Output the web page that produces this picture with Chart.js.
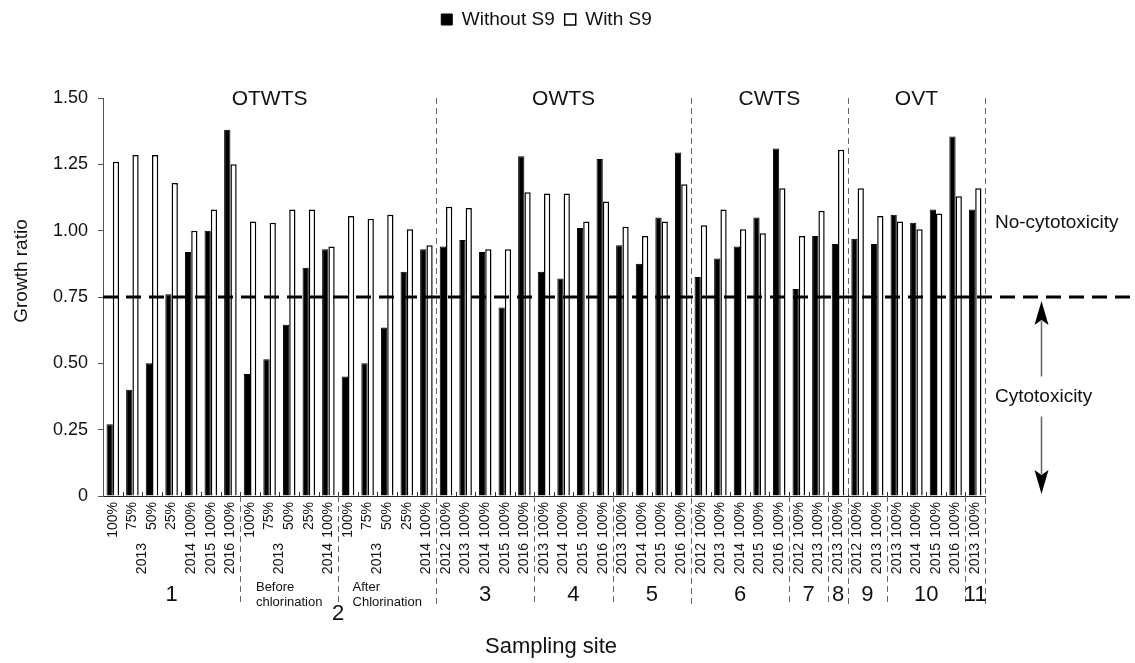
<!DOCTYPE html>
<html>
<head>
<meta charset="utf-8">
<script src="https://cdn.jsdelivr.net/npm/chart.js@4.4.1/dist/chart.umd.min.js"></script>
<style>
  html, body { margin: 0; padding: 0; background: #fff; }
</style>
</head>
<body>
<canvas id="barChart" width="1135" height="663"></canvas>
<script>
// sample concentration / year / site rows under the x axis
const concLabels = [
  '100%', '75%', '50%', '25%', '100%', '100%', '100%',
  '100%', '75%', '50%', '25%', '100%',
  '100%', '75%', '50%', '25%', '100%',
  '100%', '100%', '100%', '100%', '100%',
  '100%', '100%', '100%', '100%',
  '100%', '100%', '100%', '100%',
  '100%', '100%', '100%', '100%', '100%',
  '100%', '100%',
  '100%',
  '100%', '100%',
  '100%', '100%', '100%', '100%',
  '100%'
];
const yearLabels = [
  '2013', '2013', '2013', '2013', '2014', '2015', '2016',
  '2013', '2013', '2013', '2013', '2014',
  '2013', '2013', '2013', '2013', '2014',
  '2012', '2013', '2014', '2015', '2016',
  '2013', '2014', '2015', '2016',
  '2013', '2014', '2015', '2016',
  '2012', '2013', '2014', '2015', '2016',
  '2012', '2013',
  '2013',
  '2012', '2013',
  '2013', '2014', '2015', '2016',
  '2013'
];
const siteLabels = ['1', '2', '2', '3', '4', '5', '6', '7', '8', '9', '10', '11'];
const siteNotes = ['', 'Before\nchlorination', 'After\nChlorination', '', '', '', '', '', '', '', '', ''];
const siteSizes = [7, 5, 5, 5, 4, 4, 5, 2, 1, 2, 4, 1];
const plantLabels = ['OTWTS', 'OWTS', 'CWTS', 'OVT'];
const plantSizes = [17, 13, 8, 7];

// growth ratios
const withoutS9 = [
  0.27, 0.40, 0.50, 0.76, 0.92, 1.00, 1.38,
  0.46, 0.515, 0.645, 0.86, 0.93,
  0.45, 0.50, 0.635, 0.845, 0.93,
  0.94, 0.965, 0.92, 0.71, 1.28,
  0.845, 0.82, 1.01, 1.27,
  0.945, 0.875, 1.05, 1.295,
  0.825, 0.895, 0.94, 1.05, 1.31,
  0.78, 0.98,
  0.95,
  0.97, 0.95,
  1.06, 1.03, 1.08, 1.355,
  1.08
];
const withS9 = [
  1.26, 1.285, 1.285, 1.18, 1.00, 1.08, 1.25,
  1.035, 1.03, 1.08, 1.08, 0.94,
  1.055, 1.045, 1.06, 1.005, 0.945,
  1.09, 1.085, 0.93, 0.93, 1.145,
  1.14, 1.14, 1.035, 1.11,
  1.015, 0.98, 1.035, 1.175,
  1.02, 1.08, 1.005, 0.99, 1.16,
  0.98, 1.075,
  1.305,
  1.16, 1.055,
  1.035, 1.005, 1.065, 1.13,
  1.16
];
const cutoff = 0.75;
const FONT = '"Liberation Sans", Arial, sans-serif';

Chart.defaults.font.family = FONT;
Chart.defaults.color = '#111';

function cumulative(sizes) {
  const out = [0];
  sizes.forEach(n => out.push(out[out.length - 1] + n));
  return out;
}

const annotate = {
  id: 'annotate',
  beforeLayout(chart) {
    const lg = chart.legend;
    if (lg && !lg._tall) {
      const fit = lg.fit;
      lg.fit = function () { fit.call(this); this.height = 98; };
      lg._tall = true;
    }
  },
  afterDatasetsDraw(chart) {
    const { ctx, chartArea: a, scales: { y } } = chart;
    const yc = y.getPixelForValue(cutoff);
    ctx.save();
    ctx.strokeStyle = '#000';
    ctx.lineWidth = 3;
    ctx.setLineDash([15, 8]);
    ctx.beginPath();
    ctx.moveTo(a.left, yc);
    ctx.lineTo(chart.width, yc);
    ctx.stroke();
    ctx.restore();
  },
  afterDraw(chart) {
    const { ctx, chartArea: a, scales: { x, y } } = chart;
    const step = x.getPixelForValue(1) - x.getPixelForValue(0);
    const edge = i => x.getPixelForValue(i) - step / 2;
    const n = concLabels.length;

    ctx.save();
    // small inward ticks between categories
    ctx.strokeStyle = '#333';
    ctx.lineWidth = 1;
    for (let i = 1; i < n; i++) {
      const px = Math.round(edge(i)) + 0.5;
      ctx.beginPath();
      ctx.moveTo(px, a.bottom);
      ctx.lineTo(px, a.bottom - 4);
      ctx.stroke();
    }

    // dashed dividers
    const siteCum = cumulative(siteSizes);
    const plantCum = cumulative(plantSizes);
    ctx.strokeStyle = '#666';
    ctx.setLineDash([6, 4]);
    siteCum.slice(1).forEach(i => {
      const px = Math.round(edge(i)) + 0.5;
      const top = plantCum.includes(i) ? a.top : a.bottom;
      ctx.beginPath();
      ctx.moveTo(px, top);
      ctx.lineTo(px, 605);
      ctx.stroke();
    });
    ctx.setLineDash([]);

    // rotated label rows
    ctx.fillStyle = '#111';
    function vtext(str, px, py, size, align) {
      ctx.save();
      ctx.translate(px, py);
      ctx.rotate(-Math.PI / 2);
      ctx.font = size + 'px ' + FONT;
      ctx.textAlign = align || 'right';
      ctx.textBaseline = 'middle';
      ctx.fillText(str, 0, 0);
      ctx.restore();
    }
    concLabels.forEach((s, i) => vtext(s, x.getPixelForValue(i), a.bottom + 6, 14));

    const siteOf = [];
    siteSizes.forEach((m, s) => { for (let k = 0; k < m; k++) siteOf.push(s); });
    let i = 0;
    while (i < n) {
      let j = i;
      while (j + 1 < n && yearLabels[j + 1] === yearLabels[i] && siteOf[j + 1] === siteOf[i]) j++;
      vtext(yearLabels[i], (x.getPixelForValue(i) + x.getPixelForValue(j)) / 2, a.bottom + 47, 14);
      i = j + 1;
    }

    // y axis title, sits a little above the middle
    vtext('Growth ratio', 22, 271, 19, 'center');

    // site numbers
    ctx.textAlign = 'center';
    ctx.textBaseline = 'middle';
    ctx.font = '22px ' + FONT;
    let s = 0;
    while (s < siteLabels.length) {
      let t = s;
      while (t + 1 < siteLabels.length && siteLabels[t + 1] === siteLabels[s]) t++;
      const cx = (edge(siteCum[s]) + edge(siteCum[t + 1])) / 2;
      ctx.fillText(siteLabels[s], cx, t > s ? 614 : 595);
      s = t + 1;
    }
    // notes under site 2
    ctx.font = '13px ' + FONT;
    ctx.textAlign = 'left';
    siteNotes.forEach((note, k) => {
      if (!note) return;
      const lines = note.split('\n');
      const w = Math.max(...lines.map(l => ctx.measureText(l).width));
      const cx = (edge(siteCum[k]) + edge(siteCum[k + 1])) / 2;
      lines.forEach((l, r) => ctx.fillText(l, cx - w / 2, 587 + r * 15));
    });

    // plant titles
    ctx.textAlign = 'center';
    ctx.font = '21px ' + FONT;
    plantLabels.forEach((p, k) => {
      const cx = (edge(plantCum[k]) + edge(plantCum[k + 1])) / 2;
      ctx.fillText(p, cx, a.top + 1);
    });

    // axis title
    ctx.font = '22px ' + FONT;
    ctx.fillText('Sampling site', (a.left + a.right) / 2 + 7, 647);

    // right-hand annotation
    ctx.textAlign = 'left';
    ctx.font = '19px ' + FONT;
    ctx.fillText('No-cytotoxicity', a.right + 10, y.getPixelForValue(1.03));
    ctx.fillText('Cytotoxicity', a.right + 10, y.getPixelForValue(0.375));

    const ax = 1041.5;
    const upTip = y.getPixelForValue(cutoff) + 4;
    const downTip = y.getPixelForValue(0) - 2;
    const mid = y.getPixelForValue(0.375);
    ctx.strokeStyle = '#666';
    ctx.lineWidth = 1.5;
    ctx.beginPath();
    ctx.moveTo(ax, upTip + 20); ctx.lineTo(ax, mid - 20);
    ctx.moveTo(ax, mid + 20); ctx.lineTo(ax, downTip - 20);
    ctx.stroke();
    ctx.fillStyle = '#000';
    ctx.beginPath();
    ctx.moveTo(ax, upTip); ctx.lineTo(ax - 7, upTip + 24); ctx.lineTo(ax, upTip + 19); ctx.lineTo(ax + 7, upTip + 24);
    ctx.closePath(); ctx.fill();
    ctx.beginPath();
    ctx.moveTo(ax, downTip); ctx.lineTo(ax - 7, downTip - 24); ctx.lineTo(ax, downTip - 19); ctx.lineTo(ax + 7, downTip - 24);
    ctx.closePath(); ctx.fill();
    ctx.restore();
  }
};

const ctx = document.getElementById('barChart').getContext('2d');
const barChart = new Chart(ctx, {
  type: 'bar',
  data: {
    labels: concLabels,
    datasets: [
      {
        label: 'Without S9',
        data: withoutS9,
        backgroundColor: '#000',
        borderColor: '#000',
        borderWidth: 1,
        categoryPercentage: 0.64,
        barPercentage: 1.0
      },
      {
        label: 'With S9',
        data: withS9,
        backgroundColor: '#fff',
        borderColor: '#000',
        borderWidth: 1.5,
        categoryPercentage: 0.64,
        barPercentage: 1.0
      }
    ]
  },
  options: {
    responsive: false,
    animation: false,
    layout: { padding: { left: 0, right: 42, top: 0, bottom: 167 } },
    plugins: {
      tooltip: { enabled: false },
      legend: {
        position: 'top',
        labels: { boxWidth: 11, boxHeight: 11, padding: 10, color: '#111', font: { size: 19 } }
      }
    },
    scales: {
      x: {
        type: 'category',
        ticks: { display: false },
        grid: { display: false, drawTicks: false },
        border: { display: true, color: '#222', width: 1 }
      },
      y: {
        min: 0,
        max: 1.5,
        ticks: {
          stepSize: 0.25,
          padding: 10,
          color: '#111',
          font: { size: 18 },
          callback: v => (v === 0 ? '0' : v.toFixed(2))
        },
        grid: { drawOnChartArea: false, drawTicks: true, tickLength: 5, color: '#555' },
        border: { display: true, color: '#555', width: 1 },
        title: { display: false },
        afterFit: s => { s.width = 103; }
      },
      y2: {
        position: 'right',
        display: true,
        ticks: { display: false },
        grid: { display: false },
        border: { display: false },
        afterFit: s => { s.width = 108; }
      }
    }
  },
  plugins: [annotate]
});
</script>
</body>
</html>
